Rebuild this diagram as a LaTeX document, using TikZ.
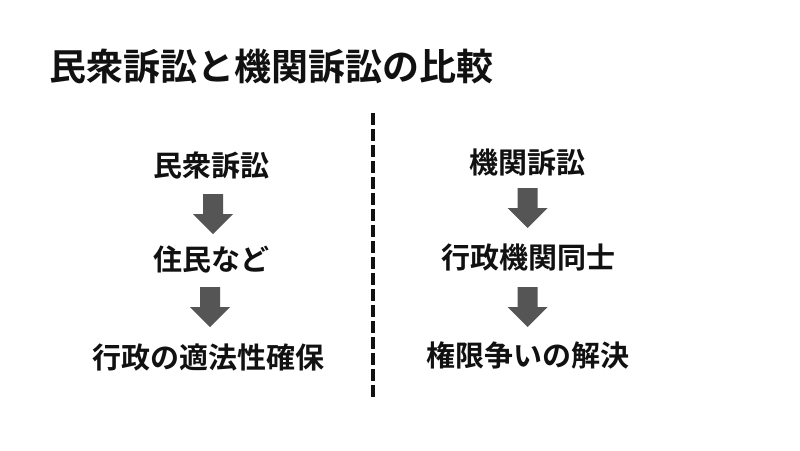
\documentclass[tikz,border=0pt]{standalone}
\usepackage{fontspec}
\setmainfont{Noto Sans CJK JP}[BoldFont={Noto Sans CJK JP Bold}]
\definecolor{arrowgray}{HTML}{555555}
\definecolor{inkblack}{HTML}{111111}
\tikzset{
  titletext/.style={anchor=base west,inner sep=0pt,font=\fontsize{37}{40}\selectfont\bfseries,text=inkblack},
  itemtext/.style={anchor=base,inner sep=0pt,font=\fontsize{29}{32}\selectfont\bfseries,text=inkblack},
  divider/.style={draw=inkblack,line width=4pt,dash pattern=on 12pt off 4pt},
  pics/downarrow/.style={code={
    \fill[arrowgray] (-10,0) -- (10,0) -- (10,20) -- (20,20) -- (0,40) -- (-20,20) -- (-10,20) -- cycle;
  }}
}
\begin{document}
\begin{tikzpicture}[x=1pt,y=-1pt]
\useasboundingbox (0,0) rectangle (800,450);
\fill[white] (0,0) rectangle (800,450);
% title
\node[titletext] (title) at (49,80) {民衆訴訟と機関訴訟の比較};
% divider
\coordinate (divtop) at (372.5,113);
\coordinate (divbot) at (372.5,397);
\draw[divider] (divtop) -- (divbot);
% left column
\node[itemtext] (l1) at (211.5,176) {民衆訴訟};
\node[itemtext] (l2) at (211.5,270) {住民など};
\node[itemtext] (l3) at (208,368) {行政の適法性確保};
\pic (la1) at (213,194) {downarrow};
\pic (la2) at (210,287) {downarrow};
% right column
\node[itemtext] (r1) at (527.5,173) {機関訴訟};
\node[itemtext] (r2) at (528,268) {行政機関同士};
\node[itemtext] (r3) at (528,366) {権限争いの解決};
\pic (ra1) at (527.5,188) {downarrow};
\pic (ra2) at (527.5,287) {downarrow};
\end{tikzpicture}
\end{document}
